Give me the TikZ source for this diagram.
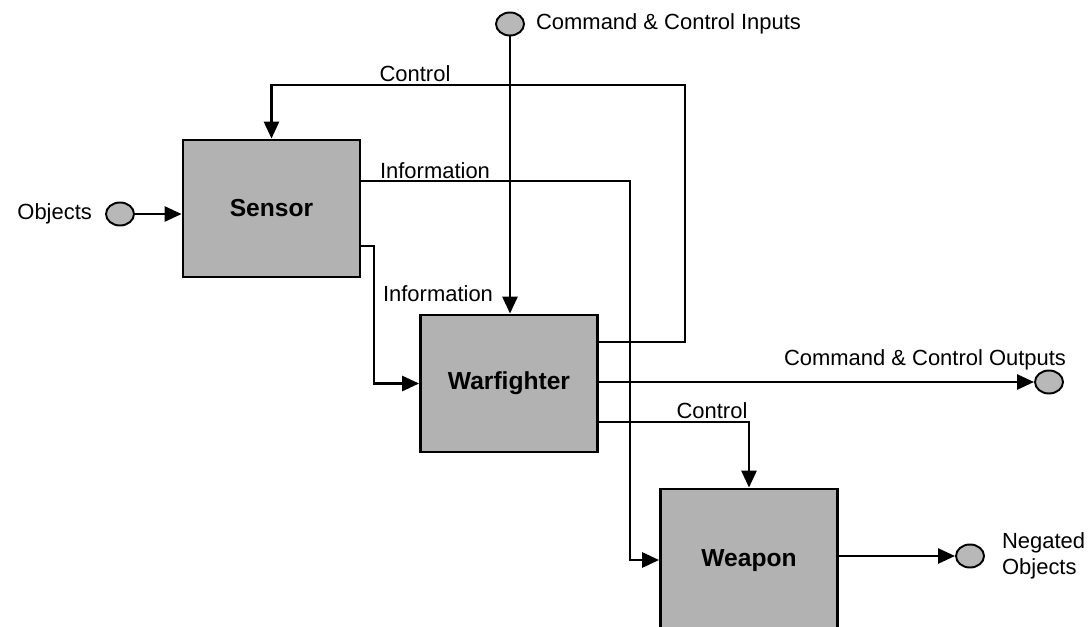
\documentclass[tikz,border=0pt]{standalone}
\usepackage{fontspec}
\setmainfont{Liberation Sans}
\usetikzlibrary{shapes.geometric,arrows.meta}
\begin{document}
\begin{tikzpicture}[x=0.02cm,y=-0.02cm,
    block/.style={draw, line width=1.6pt, fill=black!30, minimum width=3.54cm, minimum height=2.74cm, font=\fontsize{14}{16}\selectfont\bfseries},
    port/.style={draw, ellipse, line width=1.1pt, fill=black!28, minimum width=0.56cm, minimum height=0.46cm, inner sep=0pt},
    flow/.style={line width=1.5pt, -{Triangle[length=0.34cm,width=0.3cm]}},
    lbl/.style={font=\fontsize{12.5}{14.5}\selectfont, inner sep=1pt}]
        \useasboundingbox (0,0) rectangle (1089,626);
        \clip (0,0) rectangle (1089,626);

        % Blocks
        \node[block] (sensor) at (271.5,208.5) {Sensor};
        \node[block] (warfighter) at (509,383.5) {Warfighter};
        \node[block, minimum height=2.86cm] (weapon) at (749,560.5) {Weapon};

        % Inputs and outputs
        \node[port] (ccin) at (510,24) {};
        \node[lbl, anchor=west] (ccinlabel) at (534,24) {Command \& Control Inputs};
        \node[port] (objects) at (120,214) {};
        \node[lbl, anchor=east] (objectslabel) at (94,214) {Objects};
        \node[port] (ccout) at (1049,382) {};
        \node[lbl] (ccoutlabel) at (925,360) {Command \& Control Outputs};
        \node[port] (negated) at (970,556) {};
        \node[lbl, anchor=west, align=left] (negatedlabel) at (1000,556) {Negated\\Objects};

        % Bends
        \coordinate (ctrlturn) at (685,85);
        \coordinate (infoturn) at (630,560);
        \coordinate (infodrop) at (374,246);

        % Arrows
        \draw[flow] (ccin.south) -- (ccin.south |- warfighter.north);
        \draw[flow] (objects) -- (objects -| sensor.west);
        \draw[flow] (warfighter.east |- 0,342) -| (ctrlturn) -| (sensor.north);
        \node[lbl] (ctrllabel) at (415,74) {Control};
        \draw[flow] (sensor.east |- 0,181) -| (infoturn) -- (infoturn -| weapon.west);
        \node[lbl] (infolabel) at (435,171) {Information};
        \draw[flow] (sensor.east |- infodrop) -- (infodrop) |- (warfighter.west);
        \node[lbl] (infolabeltwo) at (438,294) {Information};
        \draw[flow] (warfighter.east |- ccout) -- (ccout.west);
        \draw[flow] (warfighter.east |- 0,422) -| (weapon.north);
        \node[lbl] (ctrllabeltwo) at (712,411) {Control};
        \draw[flow] (weapon.east |- negated) -- (negated.west);
    \end{tikzpicture}
\end{document}
